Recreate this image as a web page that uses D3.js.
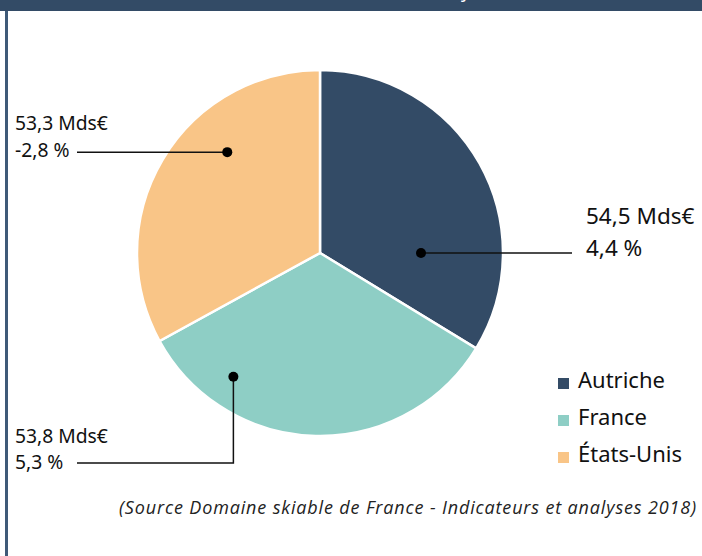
<!DOCTYPE html>
<html>
<head>
<meta charset="utf-8">
<script src="https://cdn.jsdelivr.net/npm/d3@7"></script>
<style>
  body { margin: 0; background: #fff; }
  svg { display: block; }
</style>
</head>
<body>
<script>
// pays, chiffre d'affaires (Mds€) et évolution
var pays = ["Autriche", "France", "États-Unis"];
var valeurs = [54.5, 53.8, 53.3];
var libellesCA = ["54,5 Mds€", "53,8 Mds€", "53,3 Mds€"];
var libellesEvol = ["4,4 %", "5,3 %", "-2,8 %"];
var couleurs = ["#334b66", "#8ecec5", "#f9c587"];

var w = 702;
var h = 556;
var cx = 320, cy = 253, r = 183;

var svg = d3.select("body")
	.append("svg")
	.attr("width", w)
	.attr("height", h);

// bandeau du haut + bord gauche
svg.append("rect")
	.attr("x", 0).attr("y", 0)
	.attr("width", w).attr("height", 11)
	.attr("fill", "#334b66");

svg.append("text")
	.attr("x", 355).attr("y", -3)
	.attr("text-anchor", "middle")
	.attr("font-family", "Open Sans")
	.attr("font-size", 20)
	.attr("fill", "#fff")
	.text("Chiffre d'affaires des trois marchés majeurs mondiaux");

svg.append("rect")
	.attr("x", 5).attr("y", 11)
	.attr("width", 3).attr("height", h - 11)
	.attr("fill", "#3f5a78");

var dataset = pays.map(function(p, i){
	return {pays: p, valeur: valeurs[i], ca: libellesCA[i], evol: libellesEvol[i]};
});

var color = d3.scaleOrdinal().domain(pays).range(couleurs);

var pie = d3.pie()
	.sort(null)
	.value(function(d){ return d.valeur; });

var arc = d3.arc()
	.innerRadius(0)
	.outerRadius(r);

var g = svg.append("g")
	.attr("transform", "translate(" + cx + "," + cy + ")");

g.selectAll(".slice")
	.data(pie(dataset))
	.enter()
	.append("path")
	.attr("class", "slice")
	.attr("d", arc)
	.attr("fill", function(d){ return color(d.data.pays); })
	.attr("stroke", "#fff")
	.attr("stroke-width", 2.5);

// annotations : angle (deg) et rayon du point dans la part
var ancres = {
	"Autriche":   {angle: 90,    rayon: 101},
	"France":     {angle: 215,   rayon: 151},
	"États-Unis": {angle: 317.4, rayon: 137}
};

function pt(p){
	var a = ancres[p];
	var xy = d3.pointRadial(a.angle * Math.PI / 180, a.rayon);
	return [cx + xy[0], cy + xy[1]];
}

var ann = svg.append("g").attr("font-family", "Noto Sans").attr("fill", "#111");

// Autriche
var pA = pt("Autriche");
ann.append("path")
	.attr("d", d3.line()([pA, [572, pA[1]]]))
	.attr("stroke", "#111").attr("stroke-width", 1.5).attr("fill", "none");
ann.append("circle").attr("cx", pA[0]).attr("cy", pA[1]).attr("r", 5).attr("fill", "#000");
ann.append("text").attr("x", 586).attr("y", 224).attr("font-size", 22.5).text(dataset[0].ca);
ann.append("text").attr("x", 586).attr("y", 256).attr("font-size", 22.5).text(dataset[0].evol);

// États-Unis
var pE = pt("États-Unis");
ann.append("path")
	.attr("d", d3.line()([pE, [77, pE[1]]]))
	.attr("stroke", "#111").attr("stroke-width", 1.5).attr("fill", "none");
ann.append("circle").attr("cx", pE[0]).attr("cy", pE[1]).attr("r", 5).attr("fill", "#000");
ann.append("text").attr("x", 15).attr("y", 130).attr("font-size", 19.3).text(dataset[2].ca);
ann.append("text").attr("x", 15).attr("y", 157).attr("font-size", 19.3).text(dataset[2].evol);

// France
var pF = pt("France");
ann.append("path")
	.attr("d", d3.line()([pF, [pF[0], 463], [77, 463]]))
	.attr("stroke", "#111").attr("stroke-width", 1.5).attr("fill", "none");
ann.append("circle").attr("cx", pF[0]).attr("cy", pF[1]).attr("r", 5).attr("fill", "#000");
ann.append("text").attr("x", 15).attr("y", 443).attr("font-size", 19.3).text(dataset[1].ca);
ann.append("text").attr("x", 15).attr("y", 469).attr("font-size", 19.3).text(dataset[1].evol);

// légende
var leg = svg.append("g")
	.attr("transform", "translate(558,378)");

var items = leg.selectAll(".item")
	.data(pays)
	.enter()
	.append("g")
	.attr("class", "item")
	.attr("transform", function(d, i){ return "translate(0," + (i * 37) + ")"; });

items.append("rect")
	.attr("width", 11).attr("height", 11)
	.attr("fill", function(d){ return color(d); });

items.append("text")
	.attr("x", 20).attr("y", 10)
	.attr("font-family", "Noto Sans")
	.attr("font-size", 22)
	.attr("fill", "#111")
	.text(function(d){ return d; });

// source
svg.append("text")
	.attr("x", 697).attr("y", 514)
	.attr("text-anchor", "end")
	.attr("font-family", "Open Sans")
	.attr("font-style", "italic")
	.attr("font-size", 18)
	.attr("letter-spacing", 0.85)
	.attr("fill", "#222")
	.text("(Source Domaine skiable de France - Indicateurs et analyses 2018)");
</script>
</body>
</html>
